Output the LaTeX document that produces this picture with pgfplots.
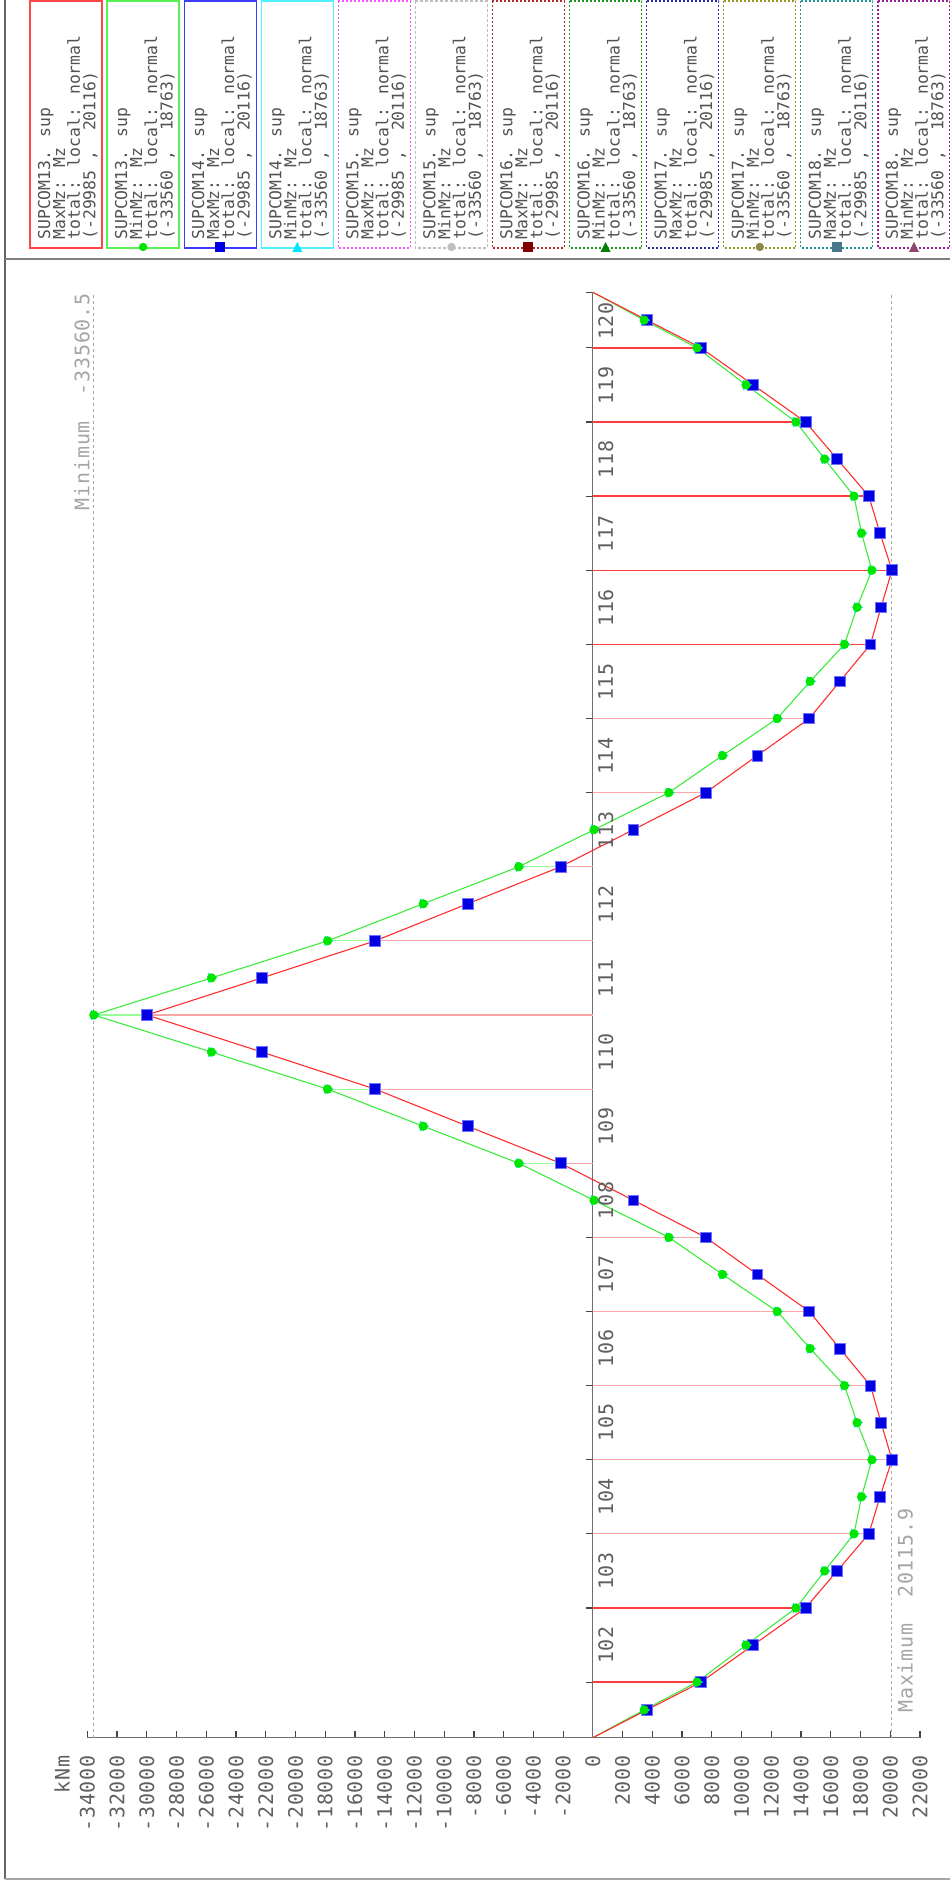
\documentclass[border=0pt]{standalone}
\usepackage{fontspec}
\setmainfont{DejaVu Sans Mono}[LetterSpace=4]
\newfontfamily\legfont{DejaVu Sans Mono}
\usepackage{pgfplots}
\usepackage{pgfplotstable}
\pgfplotsset{compat=1.18}

\definecolor{axgray}{RGB}{110,110,110}
\definecolor{tickc}{RGB}{70,70,70}
\definecolor{labc}{RGB}{95,95,95}
\definecolor{annog}{RGB}{165,165,165}
\definecolor{redline}{RGB}{255,45,45}
\definecolor{greenline}{RGB}{60,235,60}
\definecolor{circg}{RGB}{0,230,0}
\definecolor{sqblue}{RGB}{0,0,225}
\definecolor{sqedge}{RGB}{110,110,255}
\definecolor{hatchdark}{RGB}{255,60,60}
\definecolor{hatchlight}{RGB}{255,165,165}
\definecolor{hatchgreen}{RGB}{150,255,150}
\definecolor{trcyan}{RGB}{0,230,255}
\definecolor{lgred}{RGB}{255,70,70}
\definecolor{lggreen}{RGB}{90,240,90}
\definecolor{lgblue}{RGB}{60,60,255}
\definecolor{lgcyan}{RGB}{80,240,255}
\definecolor{lgmag}{RGB}{255,80,255}
\definecolor{lggray}{RGB}{190,190,190}
\definecolor{lgdred}{RGB}{180,40,40}
\definecolor{lgdgreen}{RGB}{30,150,30}
\definecolor{lgnavy}{RGB}{40,40,170}
\definecolor{lgolive}{RGB}{150,150,30}
\definecolor{lgteal}{RGB}{30,150,150}
\definecolor{lgpurple}{RGB}{150,30,150}

% s = position along the beam (element units), mx = MaxMz, mn = MinMz (kNm)
\pgfplotstableread{
s mx mn
0 0 0
0.375 3630 3450
0.75 7270 7010
1.25 10780 10300
1.75 14300 13660
2.25 16430 15590
2.75 18560 17560
3.25 19310 18070
3.75 20116 18763
4.25 19380 17770
4.75 18670 16920
5.25 16610 14610
5.75 14550 12400
6.25 11060 8720
6.75 7590 5110
7.25 2730 80
7.75 -2170 -4980
8.25 -8420 -11410
8.75 -14640 -17840
9.25 -22260 -25650
9.75 -29985 -33560
10.25 -22260 -25650
10.75 -14640 -17840
11.25 -8420 -11410
11.75 -2170 -4980
12.25 2730 80
12.75 7590 5110
13.25 11060 8720
13.75 14550 12400
14.25 16610 14610
14.75 18670 16920
15.25 19380 17770
15.75 20116 18763
16.25 19310 18070
16.75 18560 17560
17.25 16430 15590
17.75 14300 13660
18.25 10780 10300
18.75 7270 7010
19.125 3630 3450
19.5 0 0
}\envtable

\tikzset{legtext/.style={rotate=90, anchor=base west, inner sep=0pt,
  font=\legfont\fontsize{8.2bp}{9bp}\selectfont, text=black!68}}
\newcommand{\legbox}[6]{%
  \draw[#2, #3, line width=0.6bp] (#1,1) rectangle ({#1+72},248);
  \node[legtext] at ({#1+20},240) {SUPCOM#4. sup};
  \node[legtext] at ({#1+35},240) {#5Mz: Mz};
  \node[legtext] at ({#1+50},240) {total: local: normal};
  \node[legtext] at ({#1+65.5},240) {#6};
}

\begin{document}
\begin{tikzpicture}
\path[use as bounding box] (0,0) rectangle (475bp,942bp);
\begin{axis}[
  at={(43.65bp,73.15bp)}, anchor=south west,
  scale only axis, width=416.35bp, height=722.7bp,
  xmin=-34000, xmax=22000, ymin=0, ymax=19.5,
  axis x line=bottom, axis y line=middle,
  axis line style={-, draw=axgray, line width=0.6bp},
  every inner x axis line/.append style={-},
  every outer x axis line/.append style={-},
  every inner y axis line/.append style={-},
  every outer y axis line/.append style={-},
  hide obscured x ticks=false, hide obscured y ticks=false,
  scaled x ticks=false,
  xtick={-34000,-32000,-30000,-28000,-26000,-24000,-22000,-20000,-18000,-16000,-14000,-12000,-10000,-8000,-6000,-4000,-2000,0,2000,4000,6000,8000,10000,12000,14000,16000,18000,20000,22000},
  xticklabels={-34000,-32000,-30000,-28000,-26000,-24000,-22000,-20000,-18000,-16000,-14000,-12000,-10000,-8000,-6000,-4000,-2000,0,2000,4000,6000,8000,10000,12000,14000,16000,18000,20000,22000},
  ytick={0.75,1.75,2.75,3.75,4.75,5.75,6.75,7.75,8.75,9.75,10.75,11.75,12.75,13.75,14.75,15.75,16.75,17.75,18.75,19.5},
  yticklabels={},
  xtick align=inside, ytick align=center,
  major tick length=3.4bp,
  tick style={draw=tickc, line width=0.6bp},
  y tick style={xshift=-1.7bp},
  xticklabel style={font=\fontsize{10bp}{12bp}\selectfont, text=labc, rotate=90, anchor=east, inner sep=0pt},
  xticklabel shift=8.6bp,
]
% hatch lines (combs from the zero line)
\addplot[xcomb, draw=hatchgreen, line width=0.6bp] coordinates {
 (-4980,7.75) (-17840,8.75) (-33560,9.75) (-17840,10.75) (-4980,11.75)};
\addplot[xcomb, draw=hatchlight, line width=0.6bp] coordinates {
 (18560,2.75) (20116,3.75) (18670,4.75) (14550,5.75) (7590,6.75) (-2170,7.75)
 (-14640,8.75) (-29985,9.75) (-14640,10.75) (-2170,11.75) (7590,12.75) (14550,13.75)};
\addplot[xcomb, draw=hatchdark, line width=0.7bp] coordinates {
 (7270,0.75) (14300,1.75) (18670,14.75) (20116,15.75) (18560,16.75) (14300,17.75) (7270,18.75)};
% extreme value lines
\addplot[draw=annog, line width=0.5bp, dash pattern=on 1.5bp off 1.5bp] coordinates {(-33560.5,0) (-33560.5,19.5)};
\addplot[draw=annog, line width=0.5bp, dash pattern=on 1.5bp off 1.5bp] coordinates {(20115.9,0) (20115.9,19.5)};
% SUPCOM14 MaxMz (blue squares)
\addplot[only marks, mark=square*, mark size=2.7bp,
  mark options={fill=sqblue, draw=sqedge, line width=0.4bp},
  skip coords between index={0}{1}, skip coords between index={40}{41}]
  table[x=mx, y=s] {\envtable};
% SUPCOM14 MinMz (cyan triangles)
\addplot[only marks, mark=triangle*, mark size=2.6bp,
  mark options={fill=trcyan, draw=trcyan, rotate=-90},
  skip coords between index={0}{1}, skip coords between index={40}{41}]
  table[x=mn, y=s] {\envtable};
% SUPCOM13 MinMz (green, circles)
\addplot[only marks, mark=*, mark size=2.1bp,
  mark options={fill=circg, draw=circg},
  skip coords between index={0}{1}, skip coords between index={40}{41}]
  table[x=mn, y=s] {\envtable};
\addplot[draw=greenline, line width=0.55bp, mark=none] table[x=mn, y=s] {\envtable};
% SUPCOM13 MaxMz (red)
\addplot[draw=redline, line width=0.55bp, mark=none] table[x=mx, y=s] {\envtable};
\end{axis}

\begin{scope}[shift={(0bp,942bp)}, x=0.5bp, y=-0.5bp]
  % frame
  \draw[black!60, line width=1.2bp] (5,0) -- (5,1879);
  \draw[black!35, line width=1bp] (5,1879) -- (950,1879);
  \draw[black!50, line width=0.8bp] (5,259) -- (950,259);
  % axis texts
  \node[rotate=90, anchor=east, inner sep=0pt, font=\fontsize{10bp}{12bp}\selectfont, text=labc] at (62,1755) {kNm};
  \node[rotate=90, anchor=south east, inner sep=0pt, font=\fontsize{10bp}{12bp}\selectfont, text=annog] at (90,293) {Minimum~~-33560.5};
  \node[rotate=90, anchor=north west, inner sep=0pt, font=\fontsize{10bp}{12bp}\selectfont, text=annog] at (897,1713) {Maximum~~20115.9};
  % element numbers
  \foreach \n in {102,...,119} {
    \pgfmathsetmacro\py{1737.7-74.08*(\n-100.75)}
    \node[rotate=90, anchor=north, inner sep=0pt, font=\fontsize{10bp}{12bp}\selectfont, text=labc] at (598,\py) {\n};
  }
  \node[rotate=90, anchor=north, inner sep=0pt, font=\fontsize{10bp}{12bp}\selectfont, text=labc] at (598,321) {120};
  % legend
  \legbox{30}{lgred}{solid}{13}{Max}{(-29985 , ~20116)}
  \legbox{107.1}{lggreen}{solid}{13}{Min}{(-33560 , ~18763)}
  \legbox{184.2}{lgblue}{solid}{14}{Max}{(-29985 , ~20116)}
  \legbox{261.3}{lgcyan}{solid}{14}{Min}{(-33560 , ~18763)}
  \legbox{338.4}{lgmag}{dash pattern=on 1bp off 1bp}{15}{Max}{(-29985 , ~20116)}
  \legbox{415.5}{lggray}{dash pattern=on 1.5bp off 1bp}{15}{Min}{(-33560 , ~18763)}
  \legbox{492.5}{lgdred}{dash pattern=on 1bp off 1bp}{16}{Max}{(-29985 , ~20116)}
  \legbox{569.6}{lgdgreen}{dash pattern=on 1bp off 1bp}{16}{Min}{(-33560 , ~18763)}
  \legbox{646.7}{lgnavy}{dash pattern=on 1bp off 1bp}{17}{Max}{(-29985 , ~20116)}
  \legbox{723.8}{lgolive}{dash pattern=on 1bp off 1bp}{17}{Min}{(-33560 , ~18763)}
  \legbox{800.9}{lgteal}{dash pattern=on 1bp off 1bp}{18}{Max}{(-29985 , ~20116)}
  \legbox{878.0}{lgpurple}{dash pattern=on 1bp off 1bp}{18}{Min}{(-33560 , ~18763)}
  % legend keys
  \fill[circg] (143.1,247) circle[radius=4.2];
  \fill[sqblue] (215.2,242) rectangle (225.2,252);
  \fill[trcyan] (292.3,252) -- (302.3,252) -- (297.3,242) -- cycle;
  \fill[black!25] (451.5,247) circle[radius=4.2];
  \fill[black!50!red] (523.5,242) rectangle (533.5,252);
  \fill[black!50!green] (600.6,252) -- (610.6,252) -- (605.6,242) -- cycle;
  \fill[black!50!yellow] (759.8,247) circle[radius=4.2];
  \fill[black!50!cyan] (831.9,242) rectangle (841.9,252);
  \fill[black!50!magenta] (909,252) -- (919,252) -- (914,242) -- cycle;
\end{scope}
\end{tikzpicture}
\end{document}
